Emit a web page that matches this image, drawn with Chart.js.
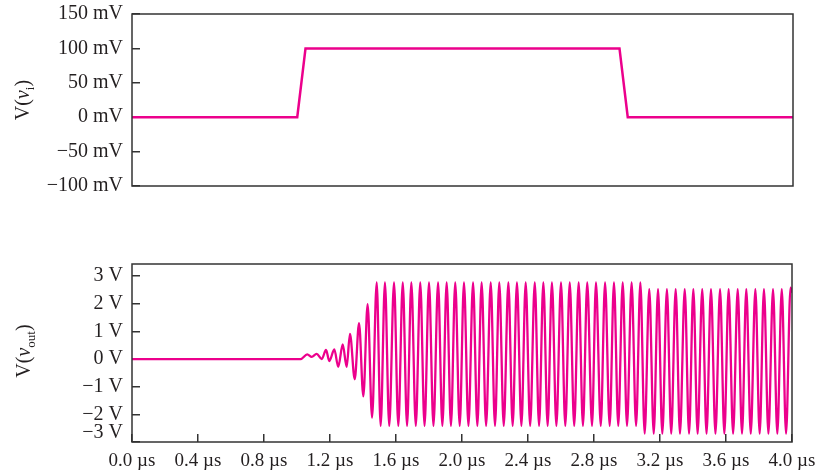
<!DOCTYPE html>
<html>
<head>
<meta charset="utf-8">
<script src="https://cdn.jsdelivr.net/npm/chart.js@4.4.1/dist/chart.umd.min.js"></script>
<style>
  body { margin: 0; background: #fff; }
  #wrap { position: relative; width: 822px; height: 475px; font-family: "Liberation Serif", serif; color: #231f20; }
  canvas { position: absolute; left: 0; }
  .ylab { position: absolute; font-size: 20px; white-space: nowrap; transform: translate(-50%, -50%) rotate(-90deg); }
  .ylab sub { font-size: 13px; }
</style>
</head>
<body>
<div id="wrap">
  <canvas id="vin" width="822" height="200" style="top:0"></canvas>
  <canvas id="vout" width="822" height="225" style="top:250px"></canvas>
  <div class="ylab" style="left:24px; top:100px">V(<i>v</i><sub>i</sub>)</div>
  <div class="ylab" style="left:25px; top:351px">V(<i>v</i><sub>out</sub>)</div>
</div>
<script>
// input pulse, time in µs, value in mV
const vinTime = [0, 1.0, 1.05, 2.95, 3.0, 4.0];
const vinMilliVolt = [0, 0, 100, 100, 0, 0];
const vinTicks = [-100, -50, 0, 50, 100, 150];

// output, read peak by peak off the plot (time in µs, value in V)
const outTime = [
  0.000, 1.022, 1.062, 1.089, 1.119, 1.150, 1.176, 1.196, 1.226, 1.250,
  1.277, 1.301, 1.321, 1.350, 1.376, 1.402, 1.428, 1.455, 1.483, 1.507,
  1.533, 1.559, 1.588, 1.614, 1.641, 1.667, 1.693, 1.720, 1.747, 1.773,
  1.800, 1.827, 1.855, 1.881, 1.907, 1.933, 1.959, 1.986, 2.012, 2.039,
  2.067, 2.093, 2.119, 2.146, 2.174, 2.200, 2.226, 2.253, 2.281, 2.307,
  2.333, 2.360, 2.386, 2.413, 2.441, 2.467, 2.493, 2.519, 2.545, 2.572,
  2.600, 2.626, 2.653, 2.680, 2.707, 2.733, 2.759, 2.788, 2.812, 2.841,
  2.867, 2.895, 2.921, 2.947, 2.974, 3.000, 3.028, 3.055, 3.081, 3.107,
  3.135, 3.162, 3.188, 3.214, 3.242, 3.268, 3.295, 3.321, 3.350, 3.376,
  3.402, 3.428, 3.456, 3.482, 3.509, 3.536, 3.564, 3.590, 3.616, 3.643,
  3.671, 3.697, 3.723, 3.750, 3.778, 3.804, 3.830, 3.857, 3.885, 3.911,
  3.938, 3.964, 3.991, 4.000
];
const outVolt = [
  0, 0, 0.17, 0.08, 0.19, 0.00, 0.33, -0.07, 0.35, -0.28,
  0.53, -0.28, 0.91, -0.73, 1.30, -1.35, 1.99, -2.12, 2.77, -2.42,
  2.77, -2.42, 2.77, -2.42, 2.77, -2.42, 2.77, -2.42, 2.77, -2.42,
  2.77, -2.42, 2.77, -2.42, 2.77, -2.42, 2.77, -2.42, 2.77, -2.42,
  2.77, -2.42, 2.77, -2.42, 2.77, -2.42, 2.77, -2.42, 2.77, -2.42,
  2.77, -2.42, 2.77, -2.42, 2.77, -2.42, 2.77, -2.42, 2.77, -2.42,
  2.77, -2.42, 2.77, -2.42, 2.77, -2.42, 2.77, -2.42, 2.77, -2.42,
  2.77, -2.42, 2.77, -2.42, 2.77, -2.42, 2.77, -2.42, 2.77, -2.70,
  2.53, -2.70, 2.53, -2.70, 2.53, -2.70, 2.53, -2.70, 2.53, -2.70,
  2.53, -2.70, 2.53, -2.70, 2.53, -2.70, 2.53, -2.70, 2.53, -2.70,
  2.53, -2.70, 2.53, -2.70, 2.53, -2.70, 2.53, -2.70, 2.53, -2.70,
  2.53, -2.70, 2.58, 2.40
];
const outTicks = [-3, -2, -1, 0, 1, 2, 3];
const timeTicks = [0, 0.4, 0.8, 1.2, 1.6, 2.0, 2.4, 2.8, 3.2, 3.6, 4.0];

const PINK = '#ec008c';
const INK = '#231f20';
const AXIS = '#333333';
const X_FONT = { family: '"Liberation Serif", serif', size: 19, lineHeight: 1.2 };
const Y_FONT = { family: '"Liberation Serif", serif', size: 20, lineHeight: 0.9 };

// box round the plot area
const frame = {
    id: 'frame',
    afterDatasetsDraw(chart) {
        const a = chart.chartArea;
        const ctx = chart.ctx;
        ctx.save();
        ctx.strokeStyle = AXIS;
        ctx.lineWidth = 1.5;
        ctx.strokeRect(a.left, a.top, a.right - a.left, a.bottom - a.top);
        ctx.restore();
    }
};

function signed(v) {
    return v < 0 ? '\u2212' + Math.abs(v) : String(v);
}

function points(xs, ys) {
    return xs.map(function (x, i) { return { x: x, y: ys[i] }; });
}

// ticks drawn inward, labels outside; fixed width so both plots line up
function yAxis(min, max, ticks, label) {
    return {
        type: 'linear',
        min: min,
        max: max,
        afterBuildTicks: function (s) { s.ticks = ticks.map(function (v) { return { value: v }; }); },
        afterFit: function (s) {
            s.width = 132;
            s.paddingTop = 0;
            s.paddingBottom = 0;
        },
        border: { display: false },
        grid: { drawOnChartArea: false, tickLength: -8, color: AXIS, lineWidth: 1.5 },
        ticks: { padding: 17, color: INK, font: Y_FONT, autoSkip: false, callback: label }
    };
}

new Chart(document.getElementById('vin'), {
    type: 'line',
    data: {
        datasets: [{
            data: points(vinTime, vinMilliVolt),
            borderColor: PINK,
            borderWidth: 2.5,
            pointRadius: 0,
            tension: 0
        }]
    },
    options: {
        responsive: false,
        animation: false,
        layout: { padding: { left: 0, right: 29, top: 14, bottom: 14 } },
        plugins: { legend: { display: false }, tooltip: { enabled: false } },
        scales: {
            x: { type: 'linear', min: 0, max: 4, display: false },
            y: yAxis(-100, 150, vinTicks, function (v) { return signed(v) + ' mV'; })
        }
    },
    plugins: [frame]
});

new Chart(document.getElementById('vout'), {
    type: 'line',
    data: {
        datasets: [{
            data: points(outTime, outVolt),
            borderColor: PINK,
            borderWidth: 2.3,
            pointRadius: 0,
            cubicInterpolationMode: 'monotone'
        }]
    },
    options: {
        responsive: false,
        animation: false,
        layout: { padding: { left: 0, right: 30, top: 14, bottom: 0 } },
        plugins: { legend: { display: false }, tooltip: { enabled: false } },
        scales: {
            x: {
                type: 'linear',
                min: 0,
                max: 4,
                afterBuildTicks: function (s) { s.ticks = timeTicks.map(function (v) { return { value: v }; }); },
                afterFit: function (s) {
                    s.height = 33;
                    s.paddingLeft = 0;
                    s.paddingRight = 0;
                },
                border: { display: false },
                grid: { drawOnChartArea: false, tickLength: -8, color: AXIS, lineWidth: 1.5 },
                ticks: {
                    padding: 16, color: INK, font: X_FONT, maxRotation: 0, autoSkip: false,
                    callback: function (v) { return v.toFixed(1) + ' \u00b5s'; }
                }
            },
            // lowest label sits a bit above its tick, as in the original
            y: yAxis(-3, 3.44, outTicks, function (v) {
                const text = signed(v) + ' V';
                return v === outTicks[0] ? [text, ''] : text;
            })
        }
    },
    plugins: [frame]
});
</script>
</body>
</html>
